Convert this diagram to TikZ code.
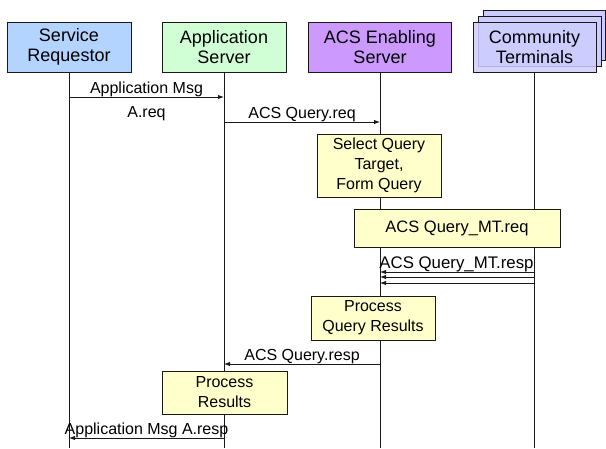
\documentclass[tikz,border=0pt]{standalone}
\usepackage{fontspec}
\setmainfont{Liberation Sans}
\usetikzlibrary{arrows.meta}
\definecolor{srblue}{RGB}{178,212,255}
\definecolor{asgreen}{RGB}{208,255,214}
\definecolor{acspurple}{RGB}{204,153,255}
\definecolor{ctblue}{RGB}{204,204,255}
\definecolor{actyellow}{RGB}{255,255,204}
\begin{document}
\begin{tikzpicture}[x=1pt,y=-1pt,
  head/.style={draw=black!90, line width=0.9pt, align=center, inner sep=0pt,
    minimum height=50pt, font=\fontsize{18}{20}\selectfont},
  act/.style={draw=black!90, fill=actyellow, line width=0.9pt, align=center, inner sep=0pt,
    font=\fontsize{16}{20}\selectfont},
  life/.style={draw=black!90, line width=0.9pt},
  msg/.style={draw=black!90, line width=0.9pt, -{Latex[length=6pt,width=4.5pt]}},
  lbl/.style={inner sep=0pt, font=\fontsize{16}{20}\selectfont},
  lblsm/.style={inner sep=0pt, font=\fontsize{16.8}{20}\selectfont}
]
\useasboundingbox (0,0) rectangle (606,448);
\coordinate (bottom) at (0,448);

% headers
\node[head, fill=srblue, minimum width=124pt] (sr) at (69,47) {Service\\Requestor};
\node[head, fill=asgreen, minimum width=124pt] (as) at (224,47) {Application\\Server};
\node[head, fill=acspurple, minimum width=143pt] (acs) at (380,47) {ACS Enabling\\Server};
\node[head, fill=ctblue, minimum width=122pt] (ct3) at (544,35) {};
\node[head, fill=ctblue, minimum width=123pt] (ct2) at (539.5,41) {};
\node[head, fill=ctblue, fill opacity=0.85, text opacity=1, minimum width=123pt] (ct) at (534.5,47) {Community\\Terminals};

% lifelines
\draw[life] (sr.south) -- (sr.south |- bottom);
\draw[life] (as.south) -- (as.south |- bottom);
\draw[life] (acs.south) -- (acs.south |- bottom);
\draw[life] (ct.south) -- (ct.south |- bottom);

% activity boxes
\node[act, minimum width=124pt, minimum height=63pt] (sel) at (379,165.5) {Select Query\\Target,\\Form Query};
\node[act, minimum width=206pt, minimum height=38pt, font=\fontsize{16.5}{20}\selectfont] (mtreq) at (457,228) {ACS Query\_MT.req};
\node[act, minimum width=124pt, minimum height=44pt] (pqr) at (373,318) {Process\\Query Results};
\node[act, minimum width=125pt, minimum height=43pt] (pr) at (224.5,392.5) {Process\\Results};

% message end points
\coordinate (sr1) at (69,97);   \coordinate (as1) at (224,97);
\coordinate (as2) at (224,122); \coordinate (acs2) at (380,122);
\coordinate (ct3a) at (535,272); \coordinate (acs3a) at (380,272);
\coordinate (ct3b) at (535,277); \coordinate (acs3b) at (380,277);
\coordinate (ct3c) at (535,283); \coordinate (acs3c) at (380,283);
\coordinate (acs4) at (380,364); \coordinate (as4) at (224,364);
\coordinate (as5) at (224,438); \coordinate (sr5) at (69,438);

% messages
\draw[msg] (sr1) -- node[lbl, above] (l1) {Application Msg} node[lbl, below=9pt] (l1b) {A.req} (as1);
\draw[msg] (as2) -- node[lbl, above] (l2) {ACS Query.req} (acs2);
\draw[msg] (ct3a) -- node[lblsm, above, xshift=-1pt] (l3) {ACS Query\_MT.resp} (acs3a);
\draw[msg] (ct3b) -- (acs3b);
\draw[msg] (ct3c) -- (acs3c);
\draw[msg] (acs4) -- node[lbl, above] (l4) {ACS Query.resp} (as4);
\draw[msg] (as5) -- node[lbl, above] (l5) {Application Msg A.resp} (sr5);
\end{tikzpicture}
\end{document}
